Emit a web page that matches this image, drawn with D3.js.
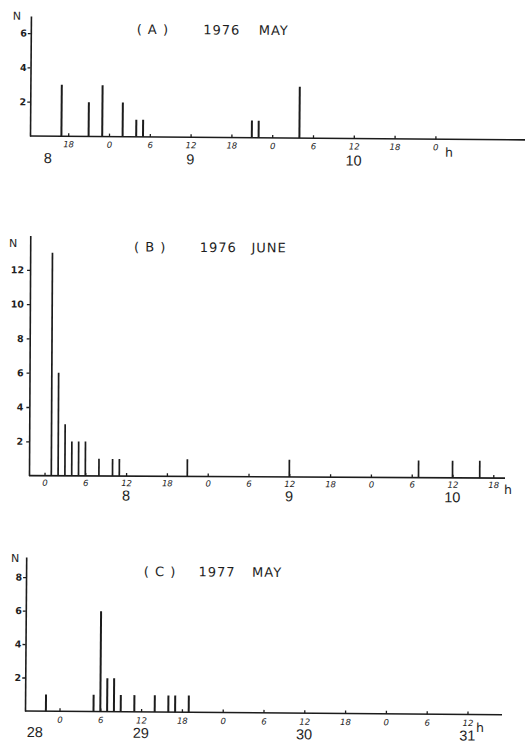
<!DOCTYPE html>
<html><head><meta charset="utf-8">
<script src="https://cdn.jsdelivr.net/npm/d3@7"></script>
<style>
html,body{margin:0;padding:0;background:#fff;}
svg{display:block;}
text{fill:#1e1e1e;font-family:"DejaVu Sans",sans-serif;}
</style></head>
<body>
<svg id="c" width="525" height="751"></svg>
<script>
// ---------- DATA ----------
// Panel A: 1976 May, hours counted from May 8 0h
const aTitle = ["( A )", "1976", "MAY"];
const aDays = ["8", "9", "10"];
const aHours = [17, 21, 23, 26, 28, 29, 45, 46, 52];
const aCounts = [3, 2, 3, 2, 1, 1, 1, 1, 3];
const aHourTicks = [18, 24, 30, 36, 42, 48, 54, 60, 66, 72];
const aYTicks = [2, 4, 6];

// Panel B: 1976 June, hours counted from June 8 0h
const bTitle = ["( B )", "1976", "JUNE"];
const bDays = ["8", "9", "10"];
const bHours = [1, 2, 3, 4, 5, 6, 8, 10, 11, 21, 36, 55, 60, 64];
const bCounts = [13, 6, 3, 2, 2, 2, 1, 1, 1, 1, 1, 1, 1, 1];
const bHourTicks = [0, 6, 12, 18, 24, 30, 36, 42, 48, 54, 60, 66];
const bYTicks = [2, 4, 6, 8, 10, 12];

// Panel C: 1977 May, hours counted from May 28 0h
const cTitle = ["( C )", "1977", "MAY"];
const cDays = ["28", "29", "30", "31"];
const cHours = [22, 29, 30, 31, 32, 33, 35, 38, 40, 41, 43];
const cCounts = [1, 1, 6, 2, 2, 1, 1, 1, 1, 1, 1];
const cHourTicks = [24, 30, 36, 42, 48, 54, 60, 66, 72, 78, 84];
const cYTicks = [2, 4, 6, 8];

// ---------- LAYOUT ----------
const INK = "#1c1c1c";
const svg = d3.select("#c");

const panels = [
  { title: aTitle, days: aDays, hours: aHours, counts: aCounts, hTicks: aHourTicks, yTicks: aYTicks,
    dayStart: 0, xDom: [24, 72], xRange: [109, 435.4], axisX: 30, axisEnd: 525, base: 136, yMax: 7, top: 16,
    tickPad: 5, yPad: 1, barW: 2, dayY: 163, firstDayX: 48, nLab: [16, 20],
    titleY: 33, titleX: [152, 221, 273], hLab: [449, 150], rot: 0.45 },
  { title: bTitle, days: bDays, hours: bHours, counts: bCounts, hTicks: bHourTicks, yTicks: bYTicks,
    dayStart: 0, xDom: [0, 66], xRange: [44.5, 493.3], axisX: 29, axisEnd: 505, base: 475.6, yMax: 14, top: 235.5,
    tickPad: 4, yPad: 3, barW: 1.7, dayY: 500, firstDayX: null, nLab: [12, 247],
    titleY: 251, titleX: [149, 217, 268], hLab: [508, 488], rot: 0.3 },
  { title: cTitle, days: cDays, hours: cHours, counts: cCounts, hTicks: cHourTicks, yTicks: cYTicks,
    dayStart: 0, xDom: [24, 84], xRange: [59.5, 467.5], axisX: 25, axisEnd: 502, base: 711, yMax: 9.2, top: 557,
    tickPad: 5.5, yPad: 1, barW: 2, dayY: 737, firstDayX: 35, nLab: [14, 562],
    titleY: 575, titleX: [159, 216, 266], hLab: [480, 725], rot: 0.45 }
];

panels.forEach(p => {
  const g = svg.append("g")
    .attr("transform", `rotate(${p.rot},${p.axisX},${p.base})`);

  const x = d3.scaleLinear().domain(p.xDom).range(p.xRange);
  const y = d3.scaleLinear().domain([0, p.yMax]).range([p.base, p.top]);

  // baseline (time axis)
  g.append("line")
    .attr("x1", p.axisX).attr("x2", p.axisEnd)
    .attr("y1", p.base).attr("y2", p.base)
    .attr("stroke", INK).attr("stroke-width", 1.6);

  // x axis ticks + hour labels
  const xa = g.append("g").attr("transform", `translate(0,${p.base})`)
    .call(d3.axisBottom(x).tickValues(p.hTicks).tickSize(-3).tickPadding(p.tickPad)
      .tickFormat(h => String(h % 24)));
  xa.select(".domain").remove();
  xa.selectAll(".tick line").attr("stroke", INK).attr("stroke-width", 1.3);
  xa.selectAll(".tick text").attr("fill", INK).style("font-family", "\"DejaVu Sans\",sans-serif")
    .style("font-size", "8.5px").style("font-style", "italic");

  // "h" unit label
  g.append("text").attr("x", p.hLab[0]).attr("y", p.hLab[1])
    .attr("text-anchor", "middle").attr("dominant-baseline", "middle")
    .style("font-size", "12.5px").text("h");

  // y axis
  const ya = g.append("g").attr("transform", `translate(${p.axisX},0)`)
    .call(d3.axisLeft(y).tickValues(p.yTicks).tickSize(3).tickSizeOuter(0).tickPadding(p.yPad)
      .tickFormat(d3.format("d")));
  ya.select(".domain").attr("stroke", INK).attr("stroke-width", 1.6);
  ya.selectAll(".tick line").attr("stroke", INK).attr("stroke-width", 1.3);
  ya.selectAll(".tick text").attr("fill", INK).style("font-family", "\"DejaVu Sans\",sans-serif")
    .style("font-size", "9.5px").style("font-weight", "bold");

  // N label
  g.append("text").attr("x", p.nLab[0]).attr("y", p.nLab[1])
    .attr("text-anchor", "middle").style("font-size", "11px").text("N");

  // bars
  g.selectAll("line.bar").data(p.hours.map((h, i) => ({ h, n: p.counts[i] })))
    .join("line").attr("class", "bar")
    .attr("x1", d => x(d.h)).attr("x2", d => x(d.h))
    .attr("y1", y(0)).attr("y2", d => y(d.n))
    .attr("stroke", INK).attr("stroke-width", p.barW);

  // day labels (centred at noon of each day; first one kept inside the axis)
  g.selectAll("text.day").data(p.days).join("text").attr("class", "day")
    .attr("x", (d, i) => (i === 0 && p.firstDayX !== null) ? p.firstDayX : x(p.dayStart + i * 24 + 12))
    .attr("y", p.dayY).attr("text-anchor", "middle")
    .style("font-family", "\"Liberation Sans\",sans-serif").style("font-size", "14.5px").text(d => d);

  // title
  g.selectAll("text.title").data(p.title).join("text").attr("class", "title")
    .attr("x", (d, i) => p.titleX[i]).attr("y", p.titleY).attr("text-anchor", "middle")
    .style("font-size", "13px").style("letter-spacing", "1px").text(d => d);
});
</script>
</body></html>
